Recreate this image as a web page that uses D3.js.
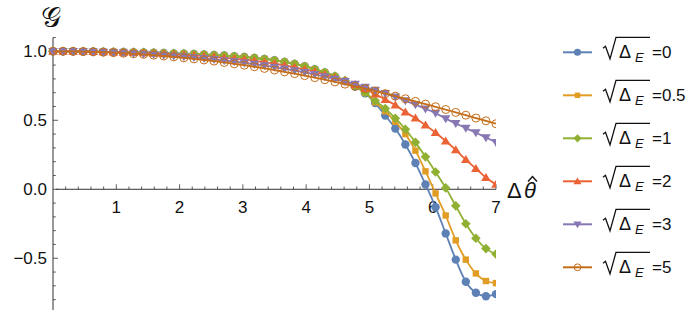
<!DOCTYPE html>
<html><head><meta charset="utf-8">
<script src="https://cdn.jsdelivr.net/npm/d3@7"></script>
<style>
html,body{margin:0;padding:0;background:#fff;}
svg text{font-family:"Liberation Sans",Arial,sans-serif;}
</style></head>
<body><svg id="c" width="700" height="314"></svg>
<script>
const xValues = [0,0.159,0.318,0.477,0.636,0.795,0.955,1.114,1.273,1.432,1.591,1.75,1.909,2.068,2.227,2.386,2.545,2.705,2.864,3.023,3.182,3.341,3.5,3.659,3.818,3.977,4.136,4.295,4.455,4.614,4.773,4.932,5.091,5.25,5.409,5.568,5.727,5.886,6.045,6.205,6.364,6.523,6.682,6.841,7];
const g0   = [1,1,1,.999,.998,.997,.996,.995,.994,.992,.99,.988,.985,.983,.98,.977,.973,.969,.964,.959,.952,.944,.935,.923,.909,.892,.870,.847,.818,.785,.745,.695,.625,.535,.44,.325,.19,.035,-.13,-.32,-.51,-.67,-.75,-.775,-.76];
const g05  = [1,1,1,.999,.998,.997,.996,.995,.994,.992,.99,.988,.985,.983,.98,.977,.973,.969,.964,.959,.952,.944,.935,.923,.909,.892,.870,.847,.818,.786,.747,.70,.63,.565,.49,.40,.28,.13,-.03,-.19,-.37,-.51,-.61,-.665,-.68];
const g1   = [1,1,1,.999,.998,.997,.996,.995,.994,.992,.99,.988,.985,.983,.98,.977,.973,.969,.964,.959,.952,.944,.935,.923,.909,.892,.870,.847,.82,.788,.75,.70,.642,.585,.515,.435,.34,.235,.125,.01,-.12,-.25,-.355,-.43,-.47];
const g2   = [1,1,.999,.999,.998,.996,.995,.993,.99,.988,.985,.982,.978,.974,.97,.965,.959,.953,.946,.939,.931,.921,.91,.898,.884,.869,.852,.832,.81,.786,.759,.73,.69,.65,.61,.56,.515,.465,.41,.35,.285,.215,.15,.085,.035];
const g3   = [1,1,.999,.998,.996,.994,.992,.989,.985,.981,.977,.972,.967,.961,.955,.948,.941,.933,.925,.916,.906,.896,.885,.873,.86,.847,.832,.816,.799,.781,.762,.741,.718,.694,.669,.642,.613,.583,.552,.512,.478,.443,.41,.375,.34];
const g5   = [1,1,.999,.998,.996,.993,.99,.986,.982,.978,.972,.966,.96,.953,.945,.937,.929,.919,.909,.899,.888,.876,.864,.851,.838,.824,.809,.794,.778,.762,.746,.729,.711,.693,.675,.656,.637,.617,.598,.578,.557,.537,.516,.496,.475];
const seriesNames = ["0","0.5","1","2","3","5"];
const seriesValues = [g0,g05,g1,g2,g3,g5];
const colors = ["#5E81B5","#E19C24","#8FB032","#EB6235","#8778B3","#C56E1A"];
const markers = ["circle","square","diamond","triUp","triDown","openCircle"];
const xTicks = [1,2,3,4,5,6,7];
const yTicks = [-0.5,0,0.5,1];
const yTickLabels = ["\u22120.5","0.0","0.5","1.0"];

const svg = d3.select("#c");
const x = d3.scaleLinear().domain([0,7]).range([53,496]);
const y = d3.scaleLinear().domain([-0.875,1.1]).range([310,37.5]);

svg.append("defs").append("clipPath").attr("id","clip")
  .append("rect").attr("x",x(0)-6).attr("y",0).attr("width",x(7)-x(0)+6).attr("height",314);

const axCol = "#333";
svg.append("line").attr("x1",x(0)).attr("x2",x(0)).attr("y1",y(1.1)).attr("y2",y(-0.875)).attr("stroke",axCol).attr("stroke-width",1);
svg.append("line").attr("x1",x(0.05)).attr("x2",x(7)).attr("y1",y(0)).attr("y2",y(0)).attr("stroke",axCol).attr("stroke-width",1);
const xMinor = d3.range(1,36).map(i=>i*0.2);
svg.append("g").selectAll("line").data(xMinor).join("line")
  .attr("x1",d=>x(d)).attr("x2",d=>x(d))
  .attr("y1",y(0)).attr("y2",d=>Math.abs(d-Math.round(d))<1e-6 ? y(0)-5 : y(0)-2.8)
  .attr("stroke",axCol).attr("stroke-width",0.8);
const yMinor = d3.range(-8,12).map(i=>i/10);
svg.append("g").selectAll("line").data(yMinor).join("line")
  .attr("y1",d=>y(d)).attr("y2",d=>y(d))
  .attr("x1",x(0)).attr("x2",d=>Math.abs(d*2-Math.round(d*2))<1e-6 ? x(0)+5 : x(0)+2.8)
  .attr("stroke",axCol).attr("stroke-width",0.8);
svg.append("g").selectAll("text").data(xTicks).join("text")
  .attr("x",d=>x(d)).attr("y",213).attr("text-anchor","middle")
  .attr("font-size",17).attr("fill","#111").text(d=>d);
svg.append("g").selectAll("text").data(yTicks).join("text")
  .attr("x",47).attr("y",d=>y(d)+6).attr("text-anchor","end")
  .attr("font-size",17).attr("fill","#111").text((d,i)=>yTickLabels[i]);

// axis labels
svg.append("text").attr("x",41).attr("y",27).attr("font-size",28)
  .attr("font-family","DejaVu Sans").attr("fill","#111").text("\uD835\uDCA2");
svg.append("text").attr("x",507).attr("y",198).attr("font-size",22).attr("fill","#111").text("\u0394");
svg.append("text").attr("x",524).attr("y",198).attr("font-size",22).attr("font-style","italic").attr("fill","#111").text("\u03B8");
svg.append("path").attr("d","M528,181.5L532.5,176.5L537,181.5").attr("fill","none").attr("stroke","#111").attr("stroke-width",1.4);

function drawMarker(g, type, color, cx, cy, s){
  const k = s||1;
  if(type==="circle") g.append("circle").attr("cx",cx).attr("cy",cy).attr("r",4.2*k).attr("fill",color);
  else if(type==="square") g.append("rect").attr("x",cx-3.2*k).attr("y",cy-3.2*k).attr("width",6.4*k).attr("height",6.4*k).attr("fill",color);
  else if(type==="diamond") g.append("path").attr("d",`M${cx},${cy-4.8*k}L${cx+4.8*k},${cy}L${cx},${cy+4.8*k}L${cx-4.8*k},${cy}Z`).attr("fill",color);
  else if(type==="triUp") g.append("path").attr("d",`M${cx},${cy-4.6*k}L${cx+4.8*k},${cy+3.4*k}L${cx-4.8*k},${cy+3.4*k}Z`).attr("fill",color);
  else if(type==="triDown") g.append("path").attr("d",`M${cx},${cy+4.6*k}L${cx+4.8*k},${cy-3.4*k}L${cx-4.8*k},${cy-3.4*k}Z`).attr("fill",color);
  else if(type==="openCircle") g.append("circle").attr("cx",cx).attr("cy",cy).attr("r",4.0*k).attr("fill","none").attr("stroke",color).attr("stroke-width",1);
}

const plot = svg.append("g").attr("clip-path","url(#clip)");
const line = d3.line().x(d=>x(d[0])).y(d=>y(d[1])).curve(d3.curveMonotoneX);
seriesValues.forEach((vals,si)=>{
  const pts = xValues.map((xv,i)=>[xv,vals[i]]);
  const g = plot.append("g");
  g.append("path").datum(pts).attr("d",line).attr("fill","none").attr("stroke",colors[si]).attr("stroke-width",1.8);
  pts.forEach(p=>drawMarker(g, markers[si], colors[si], x(p[0]), y(p[1])));
});

const legY0 = 52.3, legDy = 43;
seriesNames.forEach((nm,i)=>{
  const cy = legY0 + i*legDy;
  const g = svg.append("g");
  g.append("line").attr("x1",563).attr("x2",592).attr("y1",cy).attr("y2",cy).attr("stroke",colors[i]).attr("stroke-width",2);
  drawMarker(g, markers[i], colors[i], 577.5, cy, 0.85);
  g.append("path").attr("d",`M603,${cy-4}L605.5,${cy-6}L610,${cy+6.5}L616,${cy-15}L650,${cy-15}`)
    .attr("fill","none").attr("stroke","#111").attr("stroke-width",1.3);
  g.append("text").attr("x",619).attr("y",cy+6).attr("font-size",18).attr("fill","#111").text("\u0394");
  g.append("text").attr("x",635).attr("y",cy+10).attr("font-size",13).attr("font-style","italic").attr("fill","#111").text("E");
  g.append("text").attr("x",652).attr("y",cy+6).attr("font-size",17).attr("fill","#111").text("="+nm);
});
</script></body></html>
